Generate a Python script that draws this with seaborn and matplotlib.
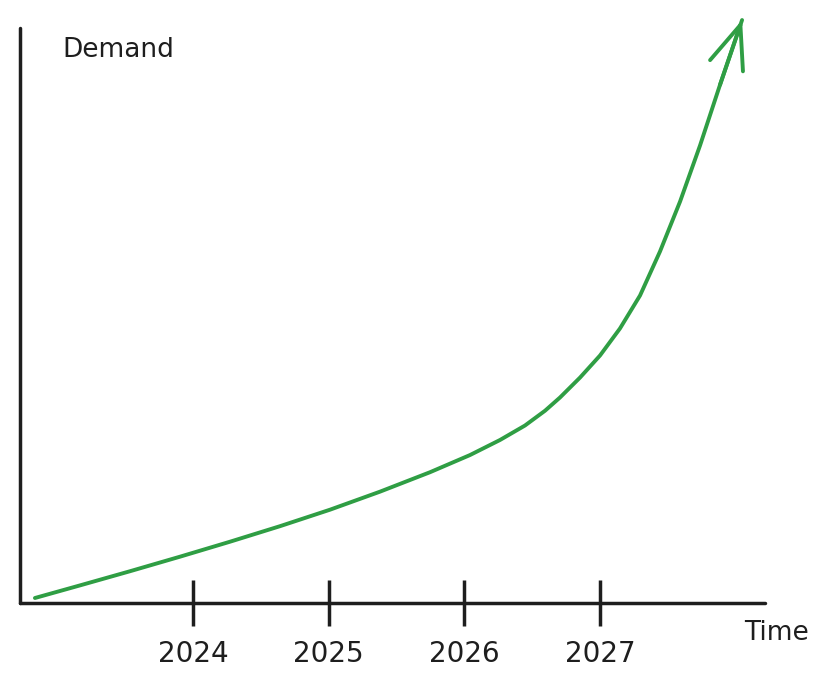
import numpy as np
import matplotlib
matplotlib.use('Agg')
import matplotlib.pyplot as plt
import seaborn as sns

# curve (x in years, demand in arbitrary units 0-100)
years = [2022.835, 2023.167, 2023.536, 2023.904, 2024.273, 2024.641, 2025.010,
         2025.378, 2025.747, 2026.042, 2026.263, 2026.447, 2026.595, 2026.705,
         2026.853, 2027.000, 2027.147, 2027.295, 2027.442, 2027.590, 2027.737,
         2027.884, 2028.047]
demand = [0.86, 3.03, 5.47, 7.97, 10.55, 13.22, 16.06,
          19.16, 22.51, 25.47, 28.06, 30.55, 33.10, 35.37,
          38.81, 42.60, 47.25, 52.93, 60.50, 69.10, 78.74,
          89.16, 100.34]
tick_years = [2024, 2025, 2026, 2027]
tick_labels = ['2024', '2025', '2026', '2027']

green = '#2f9e44'
ink = '#1e1e1e'

sns.set_theme(style='white')
plt.rcParams['font.family'] = ['DejaVu Sans']

fig = plt.figure(figsize=(8.32, 7.0), dpi=100)
ax = fig.add_axes([0.02404, 0.13857, 0.89543, 0.82143])

sns.lineplot(x=years, y=demand, ax=ax, color=green, linewidth=2.8,
             sort=True, estimator=None, clip_on=False)
for ln in ax.lines:
    ln.set_solid_joinstyle('round')
    ln.set_solid_capstyle('round')

# open arrow head at the end of the curve
ax.annotate('', xy=(years[-1], demand[-1]), xytext=(years[-2], demand[-2]),
            arrowprops=dict(arrowstyle='->, head_length=31, head_width=12.5',
                            mutation_scale=1, color=green, lw=2.8,
                            shrinkA=0, shrinkB=0, capstyle='round',
                            joinstyle='round'),
            annotation_clip=False)

ax.set_xlim(2022.725, 2028.216)
ax.set_ylim(0, 98.97)

for side in ['top', 'right']:
    ax.spines[side].set_visible(False)
for side in ['left', 'bottom']:
    ax.spines[side].set_color(ink)
    ax.spines[side].set_linewidth(2.5)
    ax.spines[side].set_capstyle('round')

ax.set_xticks(tick_years)
ax.set_xticklabels(tick_labels, fontsize=20, color=ink)
ax.set_yticks([])
ax.tick_params(axis='x', direction='inout', length=33, width=2.5,
               color=ink, pad=10, bottom=True)

ax.text(0.1315, 0.962, 'Demand', transform=ax.transAxes, fontsize=19,
        color=ink, ha='center', va='center')
ax.text(1.015, -0.052, 'Time', transform=ax.transAxes, fontsize=19,
        color=ink, ha='center', va='center')

fig.savefig('out.png', dpi=100, facecolor='white')
